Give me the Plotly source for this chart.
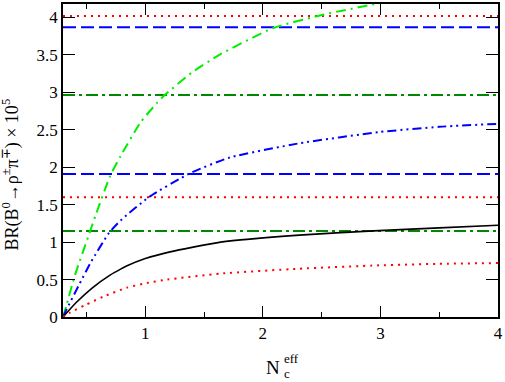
import plotly.graph_objects as go

# curves
black_x = [0.3, 0.41, 0.55, 0.70, 0.79, 0.84, 1.0, 1.21, 1.64, 2.31, 2.94, 3.5, 4.0]
black_y = [0.0, 0.19, 0.39, 0.56, 0.64, 0.68, 0.78, 0.87, 1.0, 1.094, 1.15, 1.19, 1.225]

red_x = [0.3, 0.36, 0.49, 0.64, 0.84, 1.0, 1.185, 1.64, 2.31, 2.99, 3.5, 4.0]
red_y = [0.0, 0.06, 0.16, 0.27, 0.39, 0.45, 0.50, 0.58, 0.645, 0.69, 0.71, 0.72]

blue_x = [0.3, 0.33, 0.43, 0.54, 0.69, 0.79, 1.03, 1.38, 1.72, 2.31, 2.99, 3.5, 4.0]
blue_y = [0.0, 0.10, 0.41, 0.74, 1.12, 1.29, 1.60, 1.92, 2.13, 2.32, 2.47, 2.54, 2.58]

green_x = [0.3, 0.33, 0.40, 0.525, 0.58, 0.70, 0.79, 0.96, 1.10, 1.17, 1.40, 1.64, 2.09, 2.52, 2.99]
green_y = [0.0, 0.16, 0.55, 1.12, 1.37, 1.88, 2.15, 2.60, 2.86, 2.97, 3.27, 3.51, 3.86, 4.04, 4.19]

# horizontal reference levels
red_levels = [4.02, 1.60]
blue_levels = [3.87, 1.91]
green_levels = [2.965, 1.15]

x_range = [0.3, 4.0]
y_range = [0.0, 4.18]

fig = go.Figure()

for lv in red_levels:
    fig.add_trace(go.Scatter(x=x_range, y=[lv, lv], mode='lines',
                             line=dict(color='#ff0000', width=2, dash='2px,5px')))
for lv in blue_levels:
    fig.add_trace(go.Scatter(x=x_range, y=[lv, lv], mode='lines',
                             line=dict(color='#0000ff', width=2, dash='13px,5px')))
for lv in green_levels:
    fig.add_trace(go.Scatter(x=x_range, y=[lv, lv], mode='lines',
                             line=dict(color='#008800', width=2, dash='12px,4px,3px,4px')))

fig.add_trace(go.Scatter(x=green_x, y=green_y, mode='lines', line_shape='spline',
                         line=dict(color='#00ee00', width=2, dash='10px,5px,2px,5px', smoothing=0.5)))
fig.add_trace(go.Scatter(x=blue_x, y=blue_y, mode='lines', line_shape='spline',
                         line=dict(color='#0000ff', width=2, dash='9px,4px,2px,4px,2px,4px', smoothing=0.5)))
fig.add_trace(go.Scatter(x=black_x, y=black_y, mode='lines', line_shape='spline',
                         line=dict(color='black', width=1.6, smoothing=0.5)))
fig.add_trace(go.Scatter(x=red_x, y=red_y, mode='lines', line_shape='spline',
                         line=dict(color='#ff0000', width=2, dash='2px,5px', smoothing=0.5)))

serif = "Liberation Serif"

fig.update_layout(
    width=505, height=382,
    margin=dict(l=63, r=6, t=2, b=65),
    showlegend=False,
    plot_bgcolor='white', paper_bgcolor='white',
    font=dict(family=serif, size=17, color='black'),
)

fig.update_xaxes(range=x_range, tickvals=[1, 2, 3, 4], ticks='inside', ticklen=11,
                 tickwidth=1.3, tickcolor='black', showline=True, linewidth=1.5,
                 linecolor='black', mirror='ticks', showgrid=False, zeroline=False,
                 ticklabeloverflow='allow', tickfont=dict(family=serif, size=17),
                 minor=dict(tickvals=[0.5, 1.5, 2.5, 3.5], ticks='inside', ticklen=5,
                            tickwidth=1.3, tickcolor='black'))
fig.update_yaxes(range=y_range, tickvals=[0, 0.5, 1, 1.5, 2, 2.5, 3, 3.5, 4],
                 ticktext=['0', '0.5', '1', '1.5', '2', '2.5', '3', '3.5', '4'],
                 ticks='inside', ticklen=12, tickwidth=1.3, tickcolor='black',
                 tickfont=dict(family=serif, size=17),
                 showline=True, linewidth=1.5, linecolor='black', mirror='ticks',
                 showgrid=False, zeroline=False)

# axis titles
fig.add_annotation(text="BR(B<sup>0</sup>→ρ<sup>±</sup>π<sup>∓</sup>) × 10<sup>5</sup>",
                   xref='paper', yref='paper', x=0, y=0.455, xanchor='center', yanchor='middle',
                   xshift=-52, textangle=-90, showarrow=False, font=dict(family=serif, size=18))
fig.add_annotation(text="N", xref='paper', yref='paper', x=0.503, y=0, xanchor='right',
                   yanchor='middle', yshift=-50, showarrow=False, font=dict(family=serif, size=19))
fig.add_annotation(text="eff", xref='paper', yref='paper', x=0.503, y=0, xanchor='left',
                   yanchor='middle', yshift=-41, showarrow=False, font=dict(family=serif, size=13))
fig.add_annotation(text="c", xref='paper', yref='paper', x=0.503, y=0, xanchor='left',
                   yanchor='middle', yshift=-56, showarrow=False, font=dict(family=serif, size=13))

# drop the browser's default body margin so the figure sits at the page corner
fig.write_html("out.html", config={'displayModeBar': False},
               post_script="document.body.style.margin='0';")
